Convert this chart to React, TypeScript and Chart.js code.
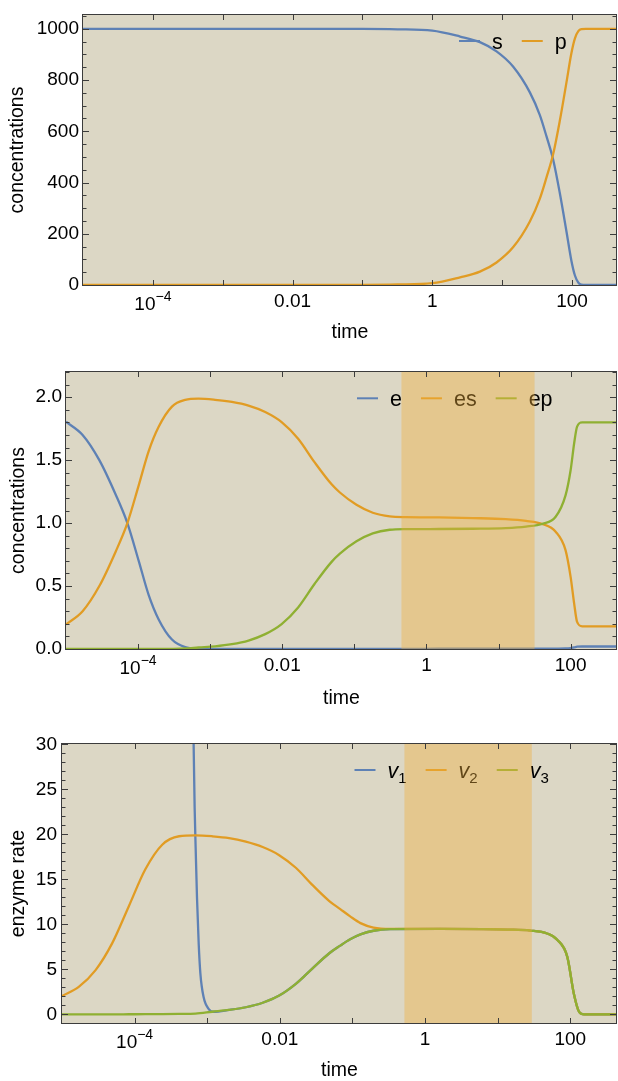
import { useEffect, useRef } from "react";
import { Chart, registerables } from "chart.js";

Chart.register(...registerables);

const FONT = '"Liberation Sans", Arial, Helvetica, sans-serif';
const COLORS = ["#5e81b5", "#e19c24", "#8fb032"];
const BG = "rgb(220,215,197)";
const BAND_FILL = "rgba(240,175,60,0.4)";
const FRAME = "#3c3c3c";
const LINE_W = 2.3;
const TICK_FONT = 19;

// ---------- panel 1 : substrate s, product p ----------
const T_SP = [0.00001, 0.001, 0.1, 0.32, 1, 2.5, 4.8, 8.3, 14.4, 24.9, 34.6, 43.1, 53.7, 66.7, 83.2, 97.7, 110, 123, 136, 158, 440];
const S_CONC = [1000, 1000, 999.5, 998, 993, 970, 948, 912, 852, 752, 663, 580, 489, 360, 209, 96, 37, 9, 1, 0, 0];
const P_CONC = [0, 0, 0.5, 2, 7, 30, 52, 88, 148, 248, 337, 420, 511, 640, 791, 904, 963, 991, 999, 1000, 1000];

// ---------- panel 2 : e, es, ep ----------
const T_ENZ = [0.00001, 0.000017, 0.000029, 0.000049, 0.000071, 0.000102, 0.00014, 0.000193, 0.000295, 0.00045, 0.00069, 0.00117, 0.002, 0.0034, 0.0058, 0.0098, 0.0166, 0.028, 0.048, 0.063, 0.107, 0.18, 0.31, 0.52, 1.5, 4.4, 12.6, 24, 41, 62, 85, 100, 112, 123, 145, 440];
const E_CONC = [1.805, 1.7, 1.5, 1.225, 1.0, 0.7, 0.43, 0.235, 0.075, 0.015, 0.003, 0.001, 0, 0, 0, 0, 0, 0, 0, 0, 0, 0, 0, 0, 0.002, 0.002, 0.002, 0.002, 0.002, 0.003, 0.004, 0.007, 0.012, 0.018, 0.02, 0.02];
const ES_CONC = [0.195, 0.3, 0.5, 0.775, 1.0, 1.3, 1.57, 1.765, 1.925, 1.978, 1.988, 1.979, 1.962, 1.933, 1.882, 1.802, 1.67, 1.484, 1.31, 1.243, 1.145, 1.082, 1.053, 1.047, 1.045, 1.04, 1.032, 1.018, 0.992, 0.931, 0.785, 0.573, 0.361, 0.215, 0.18, 0.18];
const EP_CONC = [0, 0, 0, 0, 0, 0, 0, 0, 0.001, 0.004, 0.012, 0.021, 0.038, 0.067, 0.118, 0.198, 0.33, 0.516, 0.69, 0.757, 0.855, 0.918, 0.947, 0.952, 0.953, 0.955, 0.96, 0.972, 0.995, 1.05, 1.22, 1.42, 1.634, 1.766, 1.8, 1.8];

// ---------- panel 3 : enzyme rates ----------
const T_RATE = [0.00001, 0.000017, 0.000029, 0.000049, 0.000083, 0.00014, 0.00024, 0.00041, 0.00069, 0.00117, 0.002, 0.0034, 0.0058, 0.0098, 0.0166, 0.028, 0.048, 0.068, 0.093, 0.129, 0.195, 0.33, 1.6, 6.3, 13.5, 28.2, 47.9, 66, 91, 112, 132, 155, 440];
const V2_RATE = [2.04, 3.07, 4.93, 7.9, 12.0, 16.1, 18.86, 19.8, 19.9, 19.8, 19.6, 19.2, 18.6, 17.7, 16.3, 14.4, 12.6, 11.7, 10.9, 10.15, 9.65, 9.5, 9.5, 9.48, 9.43, 9.32, 9.0, 8.3, 6.4, 2.3, 0.3, 0, 0];
const V3_RATE = [0, 0, 0.01, 0.01, 0.02, 0.03, 0.04, 0.06, 0.1, 0.3, 0.5, 0.8, 1.3, 2.1, 3.4, 5.1, 6.8, 7.65, 8.35, 8.9, 9.3, 9.48, 9.5, 9.48, 9.43, 9.32, 9.0, 8.3, 6.4, 2.3, 0.3, 0, 0];
const T_V1 = [0.00063, 0.00065, 0.000671, 0.000693, 0.000723, 0.000762, 0.000804, 0.000893, 0.00105, 0.00123, 0.002, 0.0034, 0.0058, 0.0098, 0.0166, 0.028, 0.048, 0.068, 0.093, 0.129, 0.195, 0.33, 1.6, 6.3, 13.5, 28.2, 47.9, 66, 91, 112, 132, 155, 440];
const V1_RATE = [38, 30, 23, 18.5, 13, 8, 4.6, 1.9, 0.6, 0.3, 0.5, 0.8, 1.3, 2.1, 3.4, 5.1, 6.8, 7.65, 8.35, 8.9, 9.3, 9.48, 9.5, 9.48, 9.43, 9.32, 9.0, 8.3, 6.4, 2.3, 0.3, 0, 0];

// ---------- axes ----------
const X_MIN = 0.00001;
const X_MAX = 440;
const X_TICKS = [0.0001, 0.001, 0.01, 0.1, 1, 10, 100];
const X_LABEL_VALUES = [0.0001, 0.01, 1, 100];
const X_LABEL_TEXT = ["10^\u22124", "0.01", "1", "100"];

const Y1_TICKS = [0, 200, 400, 600, 800, 1000];
const Y2_TICKS = [0, 0.5, 1, 1.5, 2];
const Y3_TICKS = [0, 5, 10, 15, 20, 25, 30];

const BAND2 = [0.45, 31.6];
const BAND3 = [0.52, 29.5];

const LABELS1 = ["s", "p"];
const LABELS2 = ["e", "es", "ep"];
const LABELS3 = ["v_1", "v_2", "v_3"];

function drawRich(ctx: CanvasRenderingContext2D, text: string, x: number, y: number, size: number, italicBase: boolean): number {
  const parts = text.split("_");
  ctx.font = `${italicBase && parts.length > 1 ? "italic " : ""}${size}px ${FONT}`;
  ctx.fillText(parts[0], x, y);
  let w = ctx.measureText(parts[0]).width;
  if (parts.length > 1) {
    const s = size * 0.7;
    ctx.font = `${s}px ${FONT}`;
    ctx.fillText(parts[1], x + w, y + size * 0.24);
    w += ctx.measureText(parts[1]).width;
  }
  return w;
}

const mmaPlugin = {
  id: "mma",
  beforeDraw(chart: any) {
    const { ctx, chartArea: a } = chart;
    ctx.save();
    ctx.fillStyle = BG;
    ctx.fillRect(a.left, a.top, a.right - a.left, a.bottom - a.top);
    ctx.restore();
  },
  afterDatasetsDraw(chart: any, _a: any, o: any) {
    const { ctx, chartArea: a, scales } = chart;
    const xs = scales.x;
    const ys = scales.y;
    ctx.save();
    // legend
    let lx = o.legendX;
    const ly = o.legendY;
    ctx.textBaseline = "alphabetic";
    ctx.textAlign = "left";
    chart.data.datasets.forEach((ds: any) => {
      ctx.strokeStyle = ds.borderColor;
      ctx.lineWidth = 2;
      ctx.beginPath();
      ctx.moveTo(lx, ly);
      ctx.lineTo(lx + 21, ly);
      ctx.stroke();
      lx += 33;
      ctx.fillStyle = "#000";
      const w = drawRich(ctx, ds.label, lx, ly + 7.5, 21.5, true);
      lx += w + 19;
    });
    // shaded band
    if (o.band) {
      const x0 = xs.getPixelForValue(o.band[0]);
      const x1 = xs.getPixelForValue(o.band[1]);
      ctx.fillStyle = BAND_FILL;
      ctx.fillRect(x0, a.top, x1 - x0, a.bottom - a.top);
    }
    // frame
    const L = Math.round(a.left), R = Math.round(a.right), T = Math.round(a.top), B = Math.round(a.bottom);
    ctx.strokeStyle = FRAME;
    ctx.lineWidth = 1;
    ctx.strokeRect(L - 0.5, T - 0.5, R - L, B - T + 1);
    ctx.beginPath();
    X_TICKS.forEach((v) => {
      const px = Math.round(xs.getPixelForValue(v)) + 0.5;
      ctx.moveTo(px, B); ctx.lineTo(px, B - 5);
      ctx.moveTo(px, T); ctx.lineTo(px, T + 5);
    });
    const majors: number[] = o.yTicks;
    majors.forEach((v) => {
      const py = Math.round(ys.getPixelForValue(v)) + 0.5;
      ctx.moveTo(L, py); ctx.lineTo(L + 6, py);
      ctx.moveTo(R - 1, py); ctx.lineTo(R - 7, py);
    });
    const step = o.yMinor;
    const start = Math.ceil(ys.min / step - 1e-9);
    for (let k = start; k * step <= ys.max + 1e-9; k++) {
      const v = k * step;
      if (majors.some((m) => Math.abs(m - v) < step * 1e-3)) continue;
      const py = Math.round(ys.getPixelForValue(v)) + 0.5;
      ctx.moveTo(L, py); ctx.lineTo(L + 3.5, py);
      ctx.moveTo(R - 1, py); ctx.lineTo(R - 4.5, py);
    }
    ctx.stroke();
    // x tick labels
    ctx.fillStyle = "#000";
    X_LABEL_VALUES.forEach((v, i) => {
      const txt = X_LABEL_TEXT[i];
      const px = xs.getPixelForValue(v);
      if (txt.includes("^")) {
        const [base, exp] = txt.split("^");
        ctx.font = `${TICK_FONT}px ${FONT}`;
        const wb = ctx.measureText(base).width;
        ctx.font = `14px ${FONT}`;
        const we = ctx.measureText(exp).width;
        const x0 = px - (wb + we) / 2;
        ctx.font = `${TICK_FONT}px ${FONT}`;
        ctx.fillText(base, x0, B + 25);
        ctx.font = `14px ${FONT}`;
        ctx.fillText(exp, x0 + wb, B + 15.5);
      } else {
        ctx.font = `${TICK_FONT}px ${FONT}`;
        const w = ctx.measureText(txt).width;
        ctx.fillText(txt, px - w / 2, B + 22.3);
      }
    });
    ctx.restore();
  },
};

type Series = { label: string; times: number[]; values: number[] };

type PanelCfg = {
  height: number;
  series: Series[];
  yRange: number[];
  yTicks: number[];
  yMinor: number;
  yDigits: number;
  yTitle: string;
  top: number;
  left: number;
  xHeight: number;
  xTitlePad: number;
  yTitlePad: number;
  tickPad: number;
  legendX: number;
  legendY: number;
  band?: number[];
};

function buildConfig(c: PanelCfg): any {
  const n = c.series.length;
  return {
    type: "line",
    data: {
      datasets: c.series.map((s, i) => ({
        label: s.label,
        data: s.times.map((t, j) => ({ x: t, y: s.values[j] })),
        borderColor: COLORS[i],
        backgroundColor: COLORS[i],
        borderWidth: LINE_W,
        pointRadius: 0,
        fill: false,
        cubicInterpolationMode: "monotone",
        clip: 0,
        order: n - i,
      })),
    },
    options: {
      responsive: false,
      animation: false,
      devicePixelRatio: 1,
      events: [],
      layout: { padding: { left: 0, right: 1, top: c.top, bottom: 0 } },
      plugins: {
        legend: { display: false },
        tooltip: { enabled: false },
        mma: { legendX: c.legendX, legendY: c.legendY, band: c.band, yTicks: c.yTicks, yMinor: c.yMinor },
      },
      scales: {
        x: {
          type: "logarithmic",
          min: X_MIN,
          max: X_MAX,
          grid: { display: false, drawTicks: false },
          border: { display: false },
          ticks: { display: false },
          title: {
            display: true,
            text: "time",
            color: "#000",
            font: { family: FONT, size: 19.5, lineHeight: 1 },
            padding: { top: 0, bottom: c.xTitlePad },
          },
          afterFit: (s: any) => { s.height = c.xHeight; },
        },
        y: {
          type: "linear",
          min: c.yRange[0],
          max: c.yRange[1],
          grid: { display: false, drawTicks: false },
          border: { display: false },
          afterBuildTicks: (s: any) => { s.ticks = c.yTicks.map((v) => ({ value: v })); },
          ticks: {
            autoSkip: false,
            padding: c.tickPad,
            color: "#000",
            font: { family: FONT, size: TICK_FONT, lineHeight: 1 },
            callback: (v: any) => Number(v).toFixed(c.yDigits),
          },
          title: {
            display: true,
            text: c.yTitle,
            color: "#000",
            font: { family: FONT, size: 19.5, lineHeight: 1 },
            padding: { top: c.yTitlePad, bottom: 0 },
          },
          afterFit: (s: any) => { s.width = c.left; },
        },
      },
    },
    plugins: [mmaPlugin],
  };
}

function Panel({ top, cfg }: { top: number; cfg: PanelCfg }) {
  const ref = useRef<HTMLCanvasElement>(null);
  useEffect(() => {
    const chart = new Chart(ref.current as HTMLCanvasElement, buildConfig(cfg));
    return () => chart.destroy();
  }, []);
  return (
    <canvas
      ref={ref}
      width={618}
      height={cfg.height}
      style={{ position: "absolute", left: 0, top, width: 618, height: cfg.height }}
    />
  );
}

const PANEL1: PanelCfg = {
  height: 358,
  series: [
    { label: LABELS1[0], times: T_SP, values: S_CONC },
    { label: LABELS1[1], times: T_SP, values: P_CONC },
  ],
  yRange: [0, 1054],
  yTicks: Y1_TICKS,
  yMinor: 50,
  yDigits: 0,
  yTitle: "concentrations",
  top: 15,
  left: 83,
  xHeight: 73,
  xTitlePad: 15.75,
  yTitlePad: 8.25,
  tickPad: 4,
  legendX: 459,
  legendY: 41,
};

const PANEL2: PanelCfg = {
  height: 362,
  series: [
    { label: LABELS2[0], times: T_ENZ, values: E_CONC },
    { label: LABELS2[1], times: T_ENZ, values: ES_CONC },
    { label: LABELS2[2], times: T_ENZ, values: EP_CONC },
  ],
  yRange: [0, 2.2],
  yTicks: Y2_TICKS,
  yMinor: 0.1,
  yDigits: 1,
  yTitle: "concentrations",
  top: 14,
  left: 66,
  xHeight: 71,
  xTitlePad: 12,
  yTitlePad: 8.5,
  tickPad: 4,
  legendX: 357,
  legendY: 40.3,
  band: BAND2,
};

const PANEL3: PanelCfg = {
  height: 361,
  series: [
    { label: LABELS3[0], times: T_V1, values: V1_RATE },
    { label: LABELS3[1], times: T_RATE, values: V2_RATE },
    { label: LABELS3[2], times: T_RATE, values: V3_RATE },
  ],
  yRange: [-0.95, 30.05],
  yTicks: Y3_TICKS,
  yMinor: 1,
  yDigits: 0,
  yTitle: "enzyme rate",
  top: 24,
  left: 62,
  xHeight: 58,
  xTitlePad: 0.25,
  yTitlePad: 8.5,
  tickPad: 5,
  legendX: 354.5,
  legendY: 50,
  band: BAND3,
};

export default function App() {
  return (
    <div style={{ position: "absolute", left: 0, top: 0, width: 618, height: 1081, overflow: "hidden", background: "#fff" }}>
      <Panel top={0} cfg={PANEL1} />
      <Panel top={358} cfg={PANEL2} />
      <Panel top={720} cfg={PANEL3} />
    </div>
  );
}
